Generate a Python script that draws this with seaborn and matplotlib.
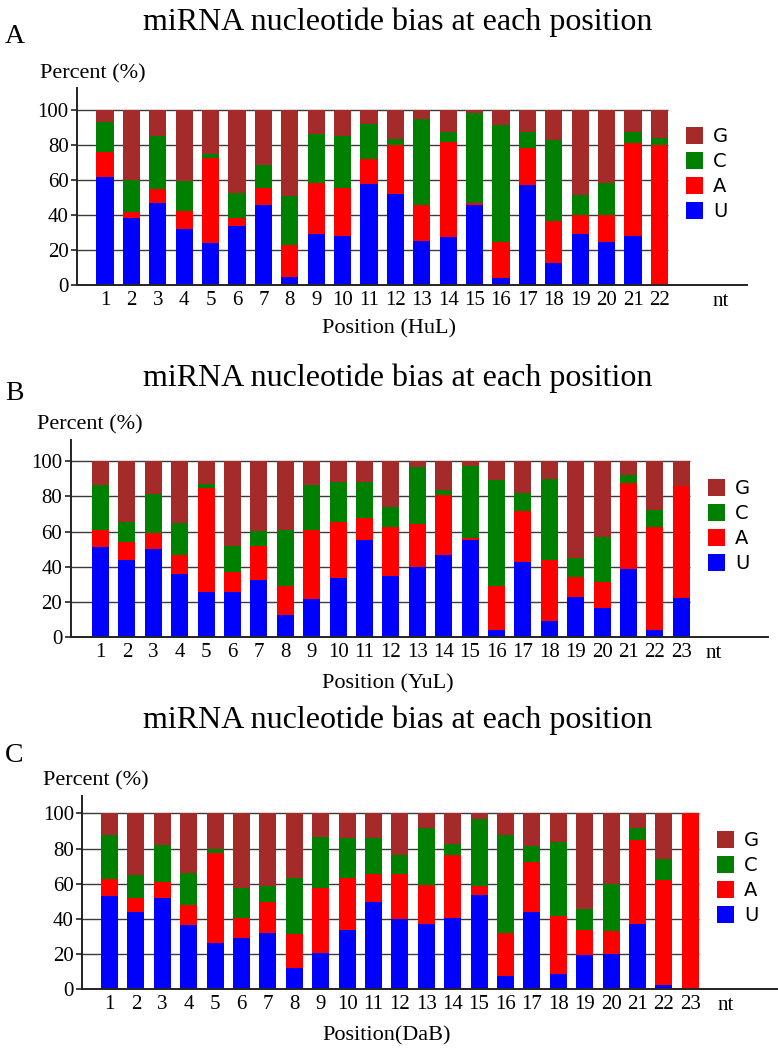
import numpy as np
import pandas as pd
import matplotlib
matplotlib.use("Agg")
import matplotlib.pyplot as plt
import seaborn as sns
from matplotlib.patches import Patch

# ---------------- data (percent of each nucleotide at each position) ----------------
nucleotides = ["G", "C", "A", "U"]

huL_U = [61.5, 38.5, 46.7, 31.9, 23.9, 34.0, 45.5, 4.9, 29.4, 27.9, 57.5, 52.0, 25.4, 27.3, 45.5, 4.4, 57.1, 12.9, 29.4, 24.5, 28.3, 0.0]
huL_A = [14.2, 3.1, 7.9, 10.6, 48.4, 4.3, 9.9, 17.9, 29.0, 27.5, 14.5, 27.9, 20.1, 54.1, 1.2, 20.1, 21.3, 23.9, 10.4, 15.3, 52.5, 79.9]
huL_C = [17.5, 18.4, 30.6, 16.7, 2.3, 14.1, 13.3, 28.2, 27.6, 29.8, 19.7, 3.2, 49.0, 5.7, 51.2, 67.0, 8.7, 45.7, 11.8, 18.6, 6.7, 4.0]
huL_G = [6.8, 40.0, 14.8, 40.8, 25.4, 47.6, 31.3, 49.0, 14.0, 14.8, 8.3, 16.9, 5.5, 12.9, 2.1, 8.5, 12.9, 17.5, 48.4, 41.6, 12.5, 16.1]

yuL_U = [51.2, 43.8, 49.9, 35.7, 25.4, 25.8, 32.3, 12.7, 21.8, 33.8, 55.2, 34.7, 40.0, 46.9, 55.0, 3.8, 42.9, 9.1, 22.8, 16.3, 38.9, 3.8, 22.4]
yuL_A = [9.5, 10.5, 9.1, 11.0, 59.6, 11.4, 19.3, 16.1, 38.9, 31.7, 12.7, 28.1, 24.5, 33.7, 1.5, 25.0, 29.0, 34.7, 11.5, 15.0, 49.0, 59.0, 63.6]
yuL_C = [25.6, 11.0, 22.4, 18.0, 2.1, 14.4, 8.6, 31.9, 25.6, 22.9, 20.1, 11.0, 32.1, 3.3, 41.0, 60.8, 9.9, 46.0, 10.5, 25.8, 4.5, 9.5, 0.0]
yuL_G = [13.7, 34.7, 18.6, 35.3, 12.9, 48.4, 39.8, 39.3, 13.7, 11.6, 12.0, 26.2, 3.4, 16.1, 2.5, 10.4, 18.2, 10.2, 55.2, 42.9, 7.6, 27.7, 14.0]

daB_U = [53.2, 43.9, 51.9, 36.7, 26.3, 29.0, 31.8, 12.3, 20.8, 33.9, 49.8, 40.0, 37.3, 40.3, 53.8, 7.4, 43.9, 8.7, 19.3, 19.9, 37.3, 2.3, 0.0]
daB_A = [9.5, 8.0, 9.1, 11.2, 51.0, 11.7, 17.6, 19.3, 37.0, 29.5, 15.5, 25.3, 22.0, 36.0, 4.7, 24.4, 28.3, 33.2, 14.6, 13.4, 47.7, 60.0, 100.0]
daB_C = [25.2, 13.1, 21.0, 18.0, 2.6, 16.7, 9.5, 31.8, 28.6, 22.4, 20.9, 11.0, 32.2, 6.5, 38.5, 56.1, 9.1, 42.0, 11.6, 26.4, 6.9, 11.6, 0.0]
daB_G = [12.1, 35.0, 18.0, 34.1, 20.1, 42.6, 41.1, 36.6, 13.6, 14.2, 13.8, 23.7, 8.5, 17.2, 3.0, 12.1, 18.7, 16.1, 54.5, 40.3, 8.1, 26.1, 0.0]

panel_letters = ["A", "B", "C"]
titles = ["miRNA nucleotide bias at each position"] * 3
xlabels = ["Position (HuL)", "Position (YuL)", "Position(DaB)"]
ylabel = "Percent (%)"
unit_label = "nt"
yticks = [0, 20, 40, 60, 80, 100]

colors = {"G": "#A52A2A", "C": "#008000", "A": "#FF0000", "U": "#0000FF"}

W, H = 778, 1049
fig = plt.figure(figsize=(W / 100, H / 100), dpi=100)
SERIF = "Liberation Serif"

def fx(px):
    return px / W

def fy(py):
    return 1 - py / H

# layout per panel (pixel geometry)
layouts = [
    dict(left=77, right=747, y0=285.3, ppu=1.756, ytop=112.4, c1=105.0, step=26.4,
         title_y=30, letter_y=43, perc_y=78, perc_x=40, xlab_y=333, nt_x=713, leg_x=686, leg_y=127),
    dict(left=70.7, right=768, y0=637.0, ppu=1.757, ytop=112.0, c1=100.5, step=26.4,
         title_y=386, letter_y=400, perc_y=429, perc_x=37, xlab_y=688, nt_x=706, leg_x=708, leg_y=479),
    dict(left=82.3, right=778, y0=989.3, ppu=1.76, ytop=109.8, c1=109.5, step=26.4,
         title_y=728, letter_y=762, perc_y=785, perc_x=43, xlab_y=1040, nt_x=718, leg_x=717, leg_y=831),
]

datasets = [
    (huL_U, huL_A, huL_C, huL_G),
    (yuL_U, yuL_A, yuL_C, yuL_G),
    (daB_U, daB_A, daB_C, daB_G),
]

for k, (lay, (U, A, C, G)) in enumerate(zip(layouts, datasets)):
    n = len(U)
    pos = [str(i + 1) for i in range(n)]
    U = np.array(U); A = np.array(A); C = np.array(C); G = np.array(G)
    df = pd.DataFrame({
        "pos": pos,
        "U": U,
        "A": U + A,
        "C": U + A + C,
        "G": U + A + C + G,
    })
    height_px = lay["ytop"] * lay["ppu"]
    ax = fig.add_axes([fx(lay["left"]), fy(lay["y0"]), (lay["right"] - lay["left"]) / W, height_px / H])
    xl = -(lay["c1"] - lay["left"]) / lay["step"]
    xr = xl + (lay["right"] - lay["left"]) / lay["step"]
    # grid lines (behind bars), ending at the last bar
    ax.hlines(yticks[1:], xl, n - 1 + 0.33, color="#3a3a3a", lw=1.0, zorder=0)
    for nuc in nucleotides:
        sns.barplot(data=df, x="pos", y=nuc, order=pos, color=colors[nuc], saturation=1,
                    width=0.65, errorbar=None, ax=ax, zorder=2)
    ax.set_xlim(xl, xr)
    ax.set_ylim(0, lay["ytop"])
    ax.set_yticks(yticks)
    ax.set_yticklabels([str(t) for t in yticks], fontfamily=SERIF, fontsize=15)
    ax.set_xticks(range(n))
    ax.set_xticklabels(pos, fontfamily=SERIF, fontsize=15)
    ax.tick_params(axis="x", length=0, pad=4)
    ax.tick_params(axis="y", length=4, width=1.2, pad=2, color="#222222")
    ax.set_xlabel("")
    ax.set_ylabel("")
    for s in ["top", "right"]:
        ax.spines[s].set_visible(False)
    for s in ["left", "bottom"]:
        ax.spines[s].set_color("#222222")
        ax.spines[s].set_linewidth(1.4)
    ax.set_facecolor("white")

    # legend
    handles = [Patch(facecolor=colors[nuc], edgecolor="none", label=nuc) for nuc in nucleotides]
    ax.legend(handles=handles, loc="upper left", bbox_to_anchor=(fx(lay["leg_x"]), fy(lay["leg_y"])),
              bbox_transform=fig.transFigure, frameon=False,
              handlelength=0.88, handleheight=0.93, handletextpad=0.5,
              labelspacing=0.31, borderpad=0, borderaxespad=0,
              prop={"family": "DejaVu Sans", "size": 14})

    # texts
    fig.text(fx(398), fy(lay["title_y"]), titles[k], ha="center", va="baseline",
             fontfamily=SERIF, fontsize=23)
    fig.text(fx(5), fy(lay["letter_y"]), panel_letters[k], ha="left", va="baseline",
             fontfamily=SERIF, fontsize=20)
    fig.text(fx(lay["perc_x"]), fy(lay["perc_y"]), ylabel, ha="left", va="baseline",
             fontfamily=SERIF, fontsize=16)
    fig.text(fx(322), fy(lay["xlab_y"]), xlabels[k], ha="left", va="baseline",
             fontfamily=SERIF, fontsize=16)
    fig.text(fx(lay["nt_x"]), fy(lay["y0"] + 21), unit_label, ha="left", va="baseline",
             fontfamily=SERIF, fontsize=15)

fig.savefig("out.png", dpi=100, facecolor="white")
